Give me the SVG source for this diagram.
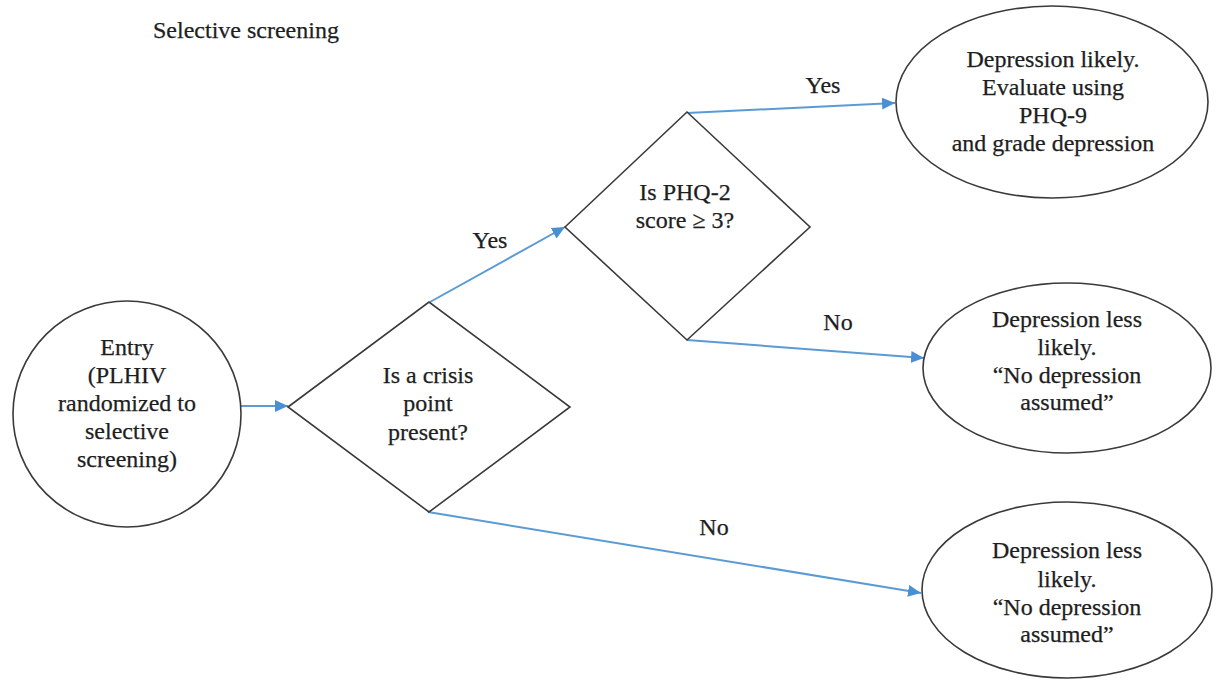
<svg xmlns="http://www.w3.org/2000/svg" width="1218" height="683" viewBox="0 0 1218 683">
  <style>
    .shape { fill: #ffffff; stroke: #3a3a3a; stroke-width: 1.6; }
    .conn { fill: none; stroke: #5b9bd5; stroke-width: 2; }
    text { font-family: "Liberation Serif", "Times New Roman", serif; font-size: 24px; fill: #1e1e1e; text-anchor: middle; stroke: #1e1e1e; stroke-width: 0.25; }
    .title { text-anchor: start; font-size: 24px; }
  </style>
  <defs>
    <marker id="arrow" markerUnits="userSpaceOnUse" markerWidth="14" markerHeight="12" refX="13" refY="6" orient="auto">
      <path d="M0,0 L13,6 L0,12 Z" fill="#4a8fd4"/>
    </marker>
  </defs>
  <rect width="1218" height="683" fill="#ffffff"/>
  <text class="title" x="153" y="38">Selective screening</text>

  <g id="connectors">
    <line class="conn" x1="241" y1="406" x2="288" y2="406" marker-end="url(#arrow)"/>
    <line class="conn" x1="430" y1="302" x2="565" y2="227" marker-end="url(#arrow)"/>
    <line class="conn" x1="687" y1="113" x2="895" y2="103" marker-end="url(#arrow)"/>
    <line class="conn" x1="687" y1="340" x2="924" y2="358" marker-end="url(#arrow)"/>
    <line class="conn" x1="428" y1="512" x2="921" y2="593" marker-end="url(#arrow)"/>
    <text x="490" y="248">Yes</text>
    <text x="823" y="93">Yes</text>
    <text x="838" y="330">No</text>
    <text x="714" y="535">No</text>
  </g>

  <g id="entry">
    <ellipse class="shape" cx="127" cy="414" rx="114" ry="113"/>
    <text x="127" y="355">Entry</text>
    <text x="127" y="383">(PLHIV</text>
    <text x="127" y="411">randomized to</text>
    <text x="127" y="439">selective</text>
    <text x="127" y="467">screening)</text>
  </g>

  <g id="crisis">
    <polygon class="shape" points="288,407 429,302 570,407 429,512"/>
    <text x="428" y="383">Is a crisis</text>
    <text x="428" y="411">point</text>
    <text x="428" y="440">present?</text>
  </g>

  <g id="phq2">
    <polygon class="shape" points="565,227 687,112 810,227 687,340"/>
    <text x="685" y="200">Is PHQ-2</text>
    <text x="685" y="228">score ≥ 3?</text>
  </g>

  <g id="likely">
    <ellipse class="shape" cx="1052" cy="102" rx="156" ry="96"/>
    <text x="1053" y="67">Depression likely.</text>
    <text x="1053" y="95">Evaluate using</text>
    <text x="1053" y="123">PHQ-9</text>
    <text x="1053" y="151">and grade depression</text>
  </g>

  <g id="less-likely-1">
    <ellipse class="shape" cx="1067" cy="368" rx="144" ry="85"/>
    <text x="1067" y="327">Depression less</text>
    <text x="1067" y="355">likely.</text>
    <text x="1067" y="383">“No depression</text>
    <text x="1067" y="410">assumed”</text>
  </g>

  <g id="less-likely-2">
    <ellipse class="shape" cx="1067" cy="590" rx="145" ry="88"/>
    <text x="1067" y="558">Depression less</text>
    <text x="1067" y="587">likely.</text>
    <text x="1067" y="615">“No depression</text>
    <text x="1067" y="642">assumed”</text>
  </g>
</svg>
